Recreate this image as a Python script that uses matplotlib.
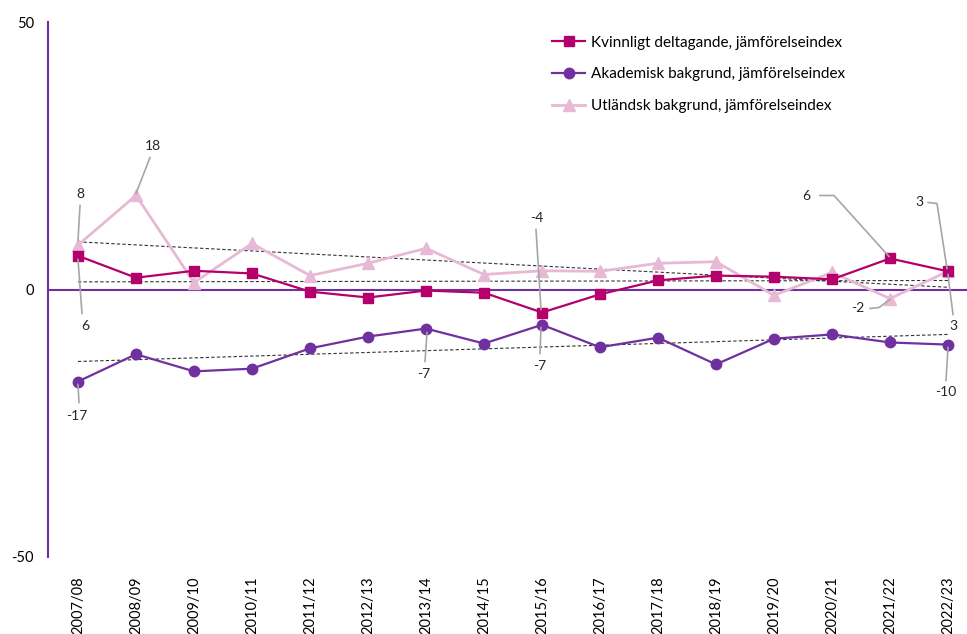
import matplotlib
matplotlib.use("Agg")
import matplotlib.pyplot as plt
import numpy as np

plt.rcParams['font.family'] = ['Lato', 'DejaVu Sans']
plt.rcParams['axes.unicode_minus'] = False

years = ["2007/08", "2008/09", "2009/10", "2010/11", "2011/12", "2012/13", "2013/14", "2014/15",
         "2015/16", "2016/17", "2017/18", "2018/19", "2019/20", "2020/21", "2021/22", "2022/23"]
kvinnligt = [6.3, 2.2, 3.5, 3.0, -0.4, -1.5, -0.2, -0.6, -4.3, -0.9, 1.7, 2.6, 2.4, 1.9, 5.8, 3.4]
akademisk = [-17.2, -12.1, -15.3, -14.8, -11.0, -8.8, -7.3, -10.1, -6.6, -10.8, -9.0, -14.0, -9.2, -8.4, -9.9, -10.3]
utlandsk = [8.3, 17.6, 1.3, 8.6, 2.6, 4.9, 7.7, 2.8, 3.5, 3.4, 4.9, 5.2, -1.1, 3.2, -1.7, 3.4]
names = ["Kvinnligt deltagande, jämförelseindex",
         "Akademisk bakgrund, jämförelseindex",
         "Utländsk bakgrund, jämförelseindex"]

c_kv = '#B4006A'
c_ak = '#7030A0'
c_ut = '#E8B9D5'
c_lead = '#A6A6A6'

fig = plt.figure(figsize=(9.67, 6.34), dpi=100)
ax = fig.add_axes([48/967, (634-557)/634, 1-48/967, (557-22)/634])

x = np.arange(len(years))
ax.plot(x, kvinnligt, color=c_kv, marker='s', ms=7, lw=1.6, label=names[0], zorder=4)
ax.plot(x, akademisk, color=c_ak, marker='o', ms=7.5, lw=1.6, label=names[1], zorder=4)
ax.plot(x, utlandsk, color=c_ut, marker='^', ms=8, lw=2.0, label=names[2], zorder=3)

# linear trend lines
for series in (kvinnligt, akademisk, utlandsk):
    k, m = np.polyfit(x, series, 1)
    ax.plot(x, k * x + m, color='#333333', ls=(0, (3, 2)), lw=0.8, zorder=2)

ax.axhline(0, color=c_ak, lw=1.5, zorder=1)

ax.set_xlim(-30/58, 15 + 19/58)
ax.set_ylim(-50, 50)
ax.set_yticks([-50, 0, 50])
ax.set_xticks(x)
ax.set_xticklabels(years, rotation=90, fontsize=10.5, color='#000000')
ax.tick_params(axis='both', length=0, labelsize=10.5)
ax.tick_params(axis='x', pad=14)
ax.tick_params(axis='y', pad=10)
for s in ('top', 'right', 'bottom'):
    ax.spines[s].set_visible(False)
ax.spines['left'].set_color(c_ak)
ax.spines['left'].set_linewidth(1.5)

def px2d(px, py):
    return ((px - 78) / 58, (289 - py) / 5.35)

def label(i, series, txt_px, leader_px, ha='center', va='center'):
    v = series[i]
    tx, ty = px2d(*txt_px)
    ax.text(tx, ty, f"{v:.0f}", ha=ha, va=va, fontsize=10, color='#262626', zorder=6)
    pts = [px2d(*p) for p in leader_px]
    ax.plot([p[0] for p in pts], [p[1] for p in pts], color=c_lead, lw=1.2, zorder=5)

label(0, utlandsk, (80, 193), [(78, 240), (80, 205)])
label(0, kvinnligt, (85, 325), [(78, 259), (82, 313)])
label(1, utlandsk, (153, 145), [(136, 193), (150, 157)])
label(0, akademisk, (77, 415), [(78, 384), (79, 402)])
label(8, kvinnligt, (537, 217), [(541, 309), (536, 229)])
label(6, akademisk, (424, 373), [(427, 332), (425, 361)])
label(8, akademisk, (540, 365), [(541, 327), (540, 353)])
label(14, kvinnligt, (806, 195), [(889, 256), (834, 195), (820, 195)])
label(15, kvinnligt, (919, 202), [(928, 202), (937, 203), (947, 268)])
label(15, utlandsk, (953, 326), [(948, 274), (953, 314)])
label(14, utlandsk, (858, 308), [(870, 308), (879, 307), (890, 299)])
label(15, akademisk, (946, 392), [(948, 347), (946, 380)])

leg = ax.legend(loc='upper left', bbox_to_anchor=(490/919, 1.0), frameon=False,
                fontsize=11, handlelength=2.2, labelspacing=1.15, handletextpad=0.35)

fig.savefig("out.png", dpi=100)
